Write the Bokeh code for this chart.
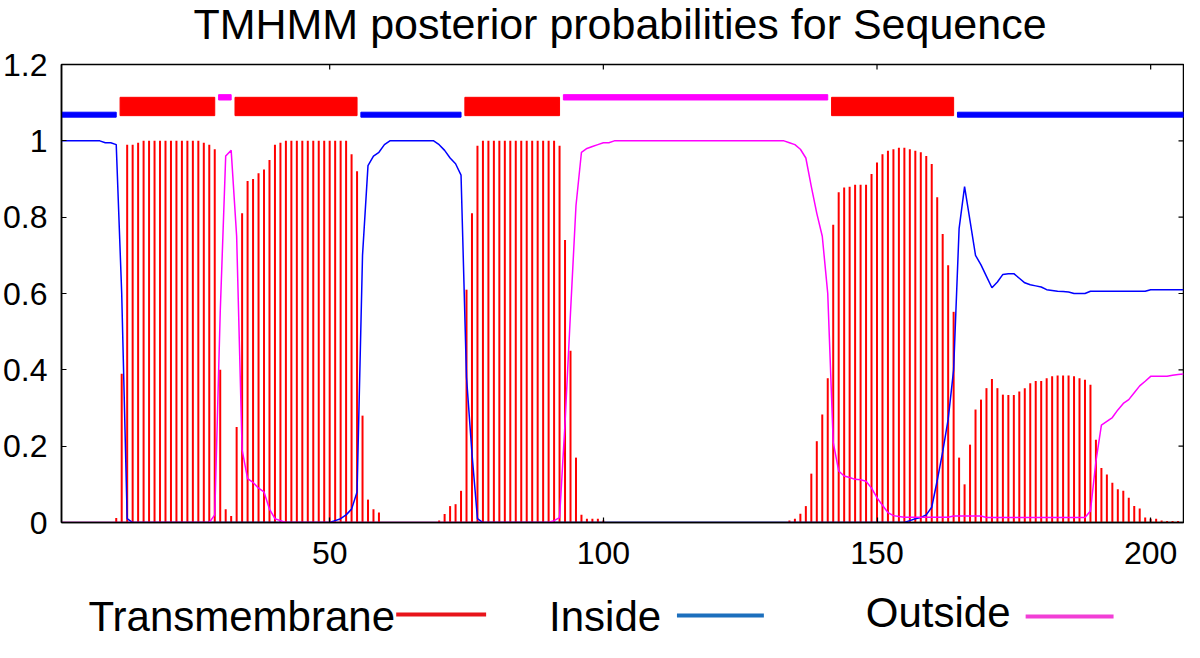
from bokeh.plotting import figure
from bokeh.models import Range1d, FixedTicker, CustomJSTickFormatter, ColumnDataSource
from bokeh.layouts import column
from bokeh.embed import file_html
from bokeh.resources import INLINE
from bokeh.core.properties import value

title_text = "TMHMM posterior probabilities for Sequence"

# residue positions 1..206
positions = list(range(1, 207))

# posterior probability of transmembrane (red impulses)
tm_prob = [
    0, 0, 0, 0, 0, 0, 0, 0, 0, 0,
    0.012, 0.39, 0.99, 0.99, 0.995, 1.0, 1.0, 1.0, 1.0, 1.0,
    1.0, 1.0, 1.0, 1.0, 1.0, 1.0, 0.995, 0.99, 0.978, 0.4,
    0.035, 0.017, 0.25, 0.81, 0.895, 0.90, 0.915, 0.925, 0.95, 0.99,
    0.995, 1.0, 1.0, 1.0, 1.0, 1.0, 1.0, 1.0, 1.0, 1.0,
    1.0, 1.0, 1.0, 0.965, 0.92, 0.28, 0.06, 0.035, 0.026, 0.0,
    0, 0, 0, 0, 0, 0, 0, 0, 0, 0.005,
    0.022, 0.043, 0.048, 0.083, 0.61, 0.81, 0.987, 1.0, 1.0, 1.0,
    1.0, 1.0, 1.0, 1.0, 1.0, 1.0, 1.0, 1.0, 1.0, 1.0,
    1.0, 0.987, 0.74, 0.45, 0.17, 0.02, 0.01, 0.01, 0.01, 0.005,
    0, 0, 0, 0, 0, 0, 0, 0, 0, 0,
    0, 0, 0, 0, 0, 0, 0, 0, 0, 0,
    0, 0, 0, 0, 0, 0, 0, 0, 0, 0,
    0, 0, 0, 0.005, 0.01, 0.023, 0.043, 0.128, 0.213, 0.283,
    0.378, 0.78, 0.865, 0.878, 0.88, 0.885, 0.885, 0.885, 0.913, 0.943,
    0.965, 0.974, 0.978, 0.982, 0.982, 0.978, 0.974, 0.97, 0.96, 0.939,
    0.852, 0.756, 0.674, 0.552, 0.17, 0.1, 0.204, 0.296, 0.322, 0.352,
    0.376, 0.352, 0.335, 0.334, 0.334, 0.343, 0.352, 0.365, 0.371, 0.371,
    0.378, 0.383, 0.385, 0.385, 0.385, 0.383, 0.378, 0.374, 0.361, 0.217,
    0.143, 0.126, 0.104, 0.087, 0.083, 0.065, 0.043, 0.037, 0.013, 0.01,
    0.01, 0.005, 0.004, 0.004, 0.004, 0.0,
]

# posterior probability of inside (blue line)
inside_prob = [
    1.0, 1.0, 1.0, 1.0, 1.0, 1.0, 1.0, 1.0, 0.995, 0.995,
    0.99, 0.6, 0.01, 0, 0, 0, 0, 0, 0, 0,
    0, 0, 0, 0, 0, 0, 0, 0, 0, 0,
    0, 0, 0, 0, 0, 0, 0, 0, 0, 0,
    0, 0, 0, 0, 0, 0, 0, 0, 0, 0,
    0.005, 0.01, 0.02, 0.035, 0.08, 0.7, 0.935, 0.96, 0.97, 0.99,
    1.0, 1.0, 1.0, 1.0, 1.0, 1.0, 1.0, 1.0, 1.0, 0.99,
    0.975, 0.955, 0.94, 0.91, 0.38, 0.18, 0.01, 0, 0, 0,
    0, 0, 0, 0, 0, 0, 0, 0, 0, 0,
    0, 0, 0, 0, 0, 0, 0, 0, 0, 0,
    0, 0, 0, 0, 0, 0, 0, 0, 0, 0,
    0, 0, 0, 0, 0, 0, 0, 0, 0, 0,
    0, 0, 0, 0, 0, 0, 0, 0, 0, 0,
    0, 0, 0, 0, 0, 0, 0, 0, 0, 0,
    0, 0, 0, 0, 0, 0, 0, 0, 0, 0,
    0, 0, 0, 0, 0, 0.005, 0.01, 0.013, 0.02, 0.04,
    0.11, 0.185, 0.27, 0.40, 0.77, 0.88, 0.79, 0.70, 0.675, 0.645,
    0.615, 0.63, 0.65, 0.652, 0.652, 0.64, 0.628, 0.623, 0.62, 0.617,
    0.61, 0.608, 0.606, 0.605, 0.604, 0.6, 0.6, 0.6, 0.606, 0.606,
    0.606, 0.606, 0.606, 0.606, 0.606, 0.606, 0.606, 0.606, 0.606, 0.61,
    0.61, 0.61, 0.61, 0.61, 0.61, 0.61,
]

# posterior probability of outside (magenta line)
outside_prob = [
    0, 0, 0, 0, 0, 0, 0, 0, 0, 0,
    0, 0, 0, 0, 0, 0, 0, 0, 0, 0,
    0, 0, 0, 0, 0, 0, 0, 0, 0.02, 0.55,
    0.96, 0.975, 0.75, 0.19, 0.115, 0.105, 0.09, 0.08, 0.035, 0.01,
    0.005, 0, 0, 0, 0, 0, 0, 0, 0, 0,
    0, 0, 0, 0, 0, 0, 0, 0, 0, 0,
    0, 0, 0, 0, 0, 0, 0, 0, 0, 0,
    0, 0, 0, 0, 0, 0, 0, 0, 0, 0,
    0, 0, 0, 0, 0, 0, 0, 0, 0, 0,
    0.005, 0.013, 0.26, 0.55, 0.83, 0.97, 0.98, 0.985, 0.99, 0.995,
    0.995, 1.0, 1.0, 1.0, 1.0, 1.0, 1.0, 1.0, 1.0, 1.0,
    1.0, 1.0, 1.0, 1.0, 1.0, 1.0, 1.0, 1.0, 1.0, 1.0,
    1.0, 1.0, 1.0, 1.0, 1.0, 1.0, 1.0, 1.0, 1.0, 1.0,
    1.0, 1.0, 1.0, 0.995, 0.99, 0.978, 0.955, 0.88, 0.81, 0.75,
    0.6, 0.21, 0.135, 0.122, 0.118, 0.113, 0.112, 0.108, 0.09, 0.065,
    0.045, 0.026, 0.018, 0.016, 0.014, 0.014, 0.014, 0.014, 0.014, 0.014,
    0.014, 0.014, 0.014, 0.017, 0.017, 0.017, 0.017, 0.017, 0.017, 0.013,
    0.013, 0.013, 0.013, 0.013, 0.013, 0.013, 0.013, 0.013, 0.013, 0.013,
    0.013, 0.013, 0.013, 0.013, 0.013, 0.013, 0.013, 0.013, 0.03, 0.16,
    0.255, 0.265, 0.275, 0.295, 0.312, 0.322, 0.34, 0.358, 0.37, 0.383,
    0.383, 0.383, 0.383, 0.386, 0.388, 0.389,
]

# predicted topology (first residue, last residue)
topo_tm = [(12, 29), (33, 55), (75, 92), (142, 164)]
topo_inside = [(1, 11), (56, 74), (165, 206)]
topo_outside = [(30, 32), (93, 141)]

y_ticks = [0, 0.2, 0.4, 0.6, 0.8, 1.0, 1.2]
y_tick_labels = ["0", "0.2", "0.4", "0.6", "0.8", "1", "1.2"]
x_ticks = [50, 100, 150, 200]

legend_labels = ["Transmembrane", "Inside", "Outside"]
legend_colors = ["#e8141b", "#1c6fbd", "#f23ed6"]

RED = "#ff0000"
BLUE = "#0000ff"
MAGENTA = "#ff00ff"
FONT = "Liberation Sans"

X_MIN, X_MAX = 1, 206
Y_MIN, Y_MAX = 0, 1.2

W, H = 1184, 642
TITLE_H = 48
MAIN_H = 534          # title strip + main plot end at canvas y = 582
BORDER_L, BORDER_R = 60, 1


def strip(height, y_top):
    """A blank strip whose frame is aligned with the main frame and whose
    ranges run in the page's own pixels (x right, y down)."""
    f = figure(width=W, height=height, x_range=Range1d(BORDER_L, W - BORDER_R),
               y_range=Range1d(y_top + height, y_top),
               output_backend="svg", toolbar_location=None, min_border=0,
               min_border_left=BORDER_L, min_border_right=BORDER_R,
               x_axis_location=None, y_axis_location=None)
    f.grid.visible = False
    f.outline_line_color = None
    return f


# title strip
ttl = strip(TITLE_H, 0)
ttl.text(x=[619], y=[23.5], text=[title_text], text_font=value(FONT), text_font_size="43px",
         text_color="black", text_align="center", text_baseline="middle")

src = ColumnDataSource(dict(x=positions, tm=tm_prob, inside=inside_prob, outside=outside_prob))

p = figure(width=W, height=MAIN_H, x_range=Range1d(X_MIN, X_MAX), y_range=Range1d(Y_MIN, Y_MAX),
           output_backend="svg", toolbar_location=None,
           min_border_left=BORDER_L, min_border_right=BORDER_R,
           min_border_top=64 - TITLE_H, min_border_bottom=60)

p.grid.visible = False
p.outline_line_color = "black"
p.outline_line_width = 1.5
p.background_fill_color = "white"
p.border_fill_color = "white"

fmt = CustomJSTickFormatter(args=dict(t=y_ticks, l=y_tick_labels), code="""
for (let i = 0; i < t.length; i++) { if (Math.abs(t[i] - tick) < 1e-6) return l[i]; }
return tick.toString();
""")

p.yaxis.ticker = FixedTicker(ticks=y_ticks)
p.yaxis.formatter = fmt
p.xaxis.ticker = FixedTicker(ticks=x_ticks)
for ax in p.xaxis + p.yaxis:
    ax.major_tick_in = 5
    ax.major_tick_out = 0
    ax.minor_tick_line_color = None
    ax.axis_line_color = "black"
    ax.axis_line_width = 1.5
    ax.major_tick_line_width = 1.2
    ax.major_label_text_font = FONT
    ax.major_label_text_color = "black"
p.yaxis.major_label_text_font_size = "32px"
p.yaxis.major_label_standoff = 14
p.xaxis.major_label_text_font_size = "32px"
p.xaxis.major_label_standoff = 19

# mirrored tick marks on the right and top edges
tick_dx = 5 / 5.48
tick_dy = 5 / 381.0
p.segment(x0=[X_MAX - tick_dx] * len(y_ticks), y0=y_ticks, x1=[X_MAX] * len(y_ticks), y1=y_ticks,
          line_color="black", line_width=1.2)
p.segment(x0=x_ticks, y0=[Y_MAX - tick_dy] * len(x_ticks), x1=x_ticks, y1=[Y_MAX] * len(x_ticks),
          line_color="black", line_width=1.2)

# transmembrane impulses
p.segment(x0="x", y0=0, x1="x", y1="tm", source=src, line_color=RED, line_width=2)
# inside / outside lines
p.line("x", "inside", source=src, line_color=BLUE, line_width=1.5)
p.line("x", "outside", source=src, line_color=MAGENTA, line_width=1.5)

# topology bars
p.quad(left=[s - 0.3 for s, e in topo_tm], right=[e for s, e in topo_tm],
       bottom=1.066, top=1.114, fill_color=RED, line_color=RED)
p.quad(left=[s - 0.3 for s, e in topo_inside], right=[e for s, e in topo_inside],
       bottom=1.062, top=1.075, fill_color=BLUE, line_color=BLUE)
p.quad(left=[s - 0.3 for s, e in topo_outside], right=[e for s, e in topo_outside],
       bottom=1.107, top=1.121, fill_color=MAGENTA, line_color=MAGENTA)

# legend strip
LEG_TOP = TITLE_H + MAIN_H
leg = strip(H - LEG_TOP, LEG_TOP)
leg.text(x=[87, 548, 865], y=[616, 616, 612], text=legend_labels, text_font=value(FONT),
         text_font_size="42px", text_color="black", text_baseline="middle")
leg.segment(x0=[395, 676, 1025], y0=[614, 615, 616], x1=[485, 763, 1113], y1=[614, 615, 616],
            line_color=legend_colors, line_width=4)

layout = column(ttl, p, leg, spacing=0)
open("out.html", "w").write(file_html(layout, INLINE))
